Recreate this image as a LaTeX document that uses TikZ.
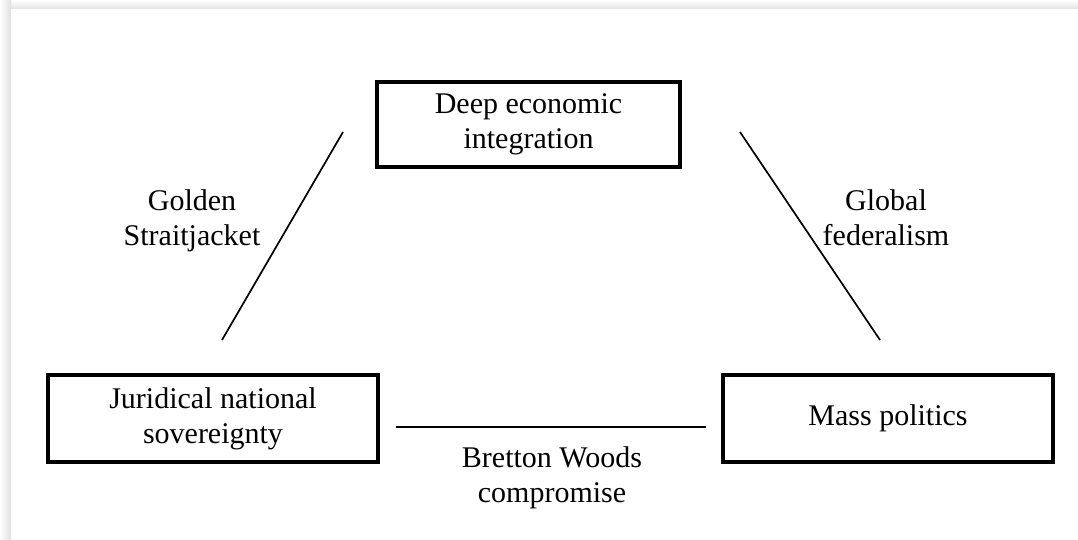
\documentclass[tikz,border=0pt]{standalone}
\usepackage{fontspec}
\setmainfont{Liberation Serif}
\begin{document}
\begin{tikzpicture}[x=1pt,y=-1pt,
  txt/.style={align=center, inner sep=0pt, font=\fontsize{30}{35}\selectfont},
  box/.style={txt, draw, line width=3.2pt},
  link/.style={line width=1.7pt}
]
\useasboundingbox (0,0) rectangle (1078,540);
\fill[white] (0,0) rectangle (1078,540);
\shade[top color=white, bottom color=gray!22] (0,0) rectangle (1078,9);
\shade[left color=white, right color=gray!25] (0,0) rectangle (11,540);
\fill[white] (11,9) rectangle (1078,540);

\node[box, minimum width=303pt, minimum height=85pt] (dei) at (528.5,124.5) {Deep economic\\integration};
\node[box, minimum width=330pt, minimum height=87pt] (jns) at (213,418.5) {Juridical national\\sovereignty};
\node[box, minimum width=330pt, minimum height=87pt] (mp) at (888,418.5) {Mass politics};

\node[txt] (gs) at (192,221) {Golden\\Straitjacket};
\node[txt] (gf) at (886,218) {Global\\federalism};
\node[txt] (bw) at (552,478) {Bretton Woods\\compromise};

\coordinate (l1) at (343,132);
\coordinate (l2) at (222,340);
\coordinate (r1) at (740,132);
\coordinate (r2) at (880,340);
\coordinate (b1) at (396,427);
\coordinate (b2) at (706,427);

\draw[link] (l1) -- (l2);
\draw[link] (r1) -- (r2);
\draw[link] (b1) -- (b2);
\end{tikzpicture}
\end{document}
